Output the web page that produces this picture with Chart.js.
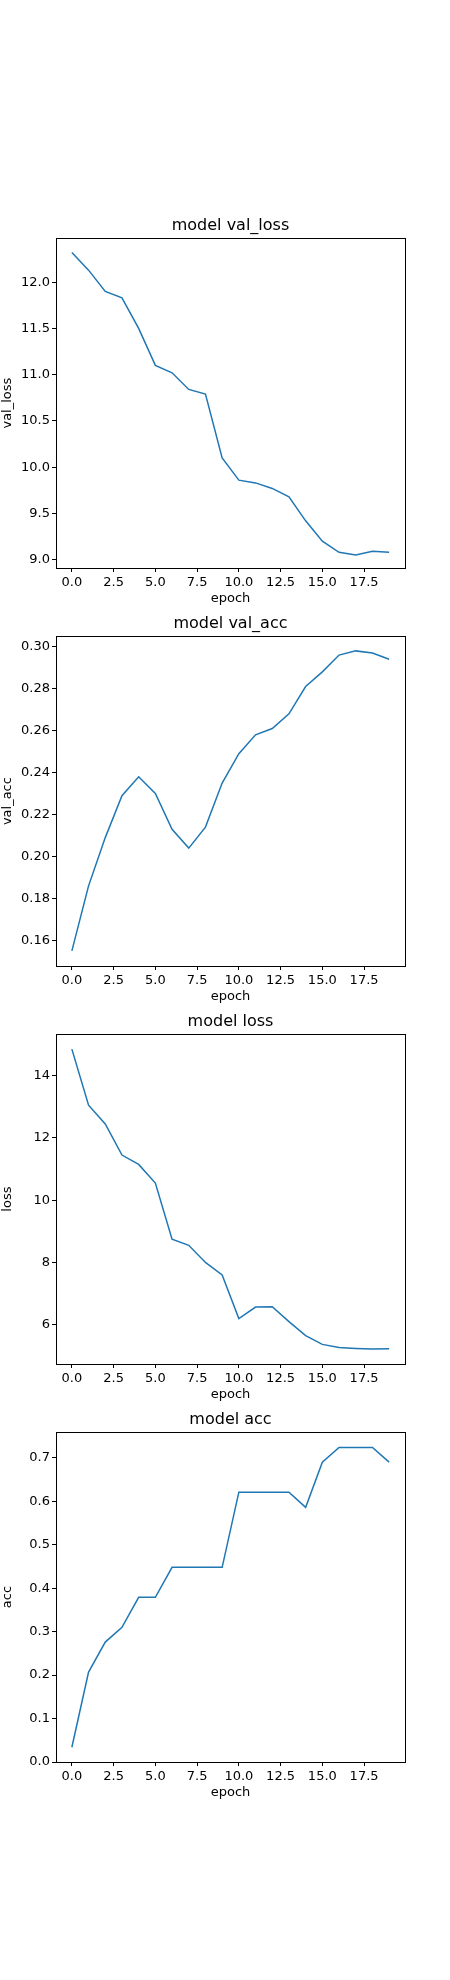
<!DOCTYPE html>
<html>
<head>
<meta charset="utf-8">
<script src="https://cdn.jsdelivr.net/npm/chart.js@4"></script>
<style>
body { margin: 0; background: #fff; width: 450px; height: 1980px; position: relative; }
.box { position: absolute; left: 0; width: 450px; height: 395px; }
</style>
</head>
<body>
<div class="box" style="top:211px"><canvas id="c0"></canvas></div>
<div class="box" style="top:609px"><canvas id="c1"></canvas></div>
<div class="box" style="top:1007px"><canvas id="c2"></canvas></div>
<div class="box" style="top:1405px"><canvas id="c3"></canvas></div>
<script>
// dados
const epochs = [0,1,2,3,4,5,6,7,8,9,10,11,12,13,14,15,16,17,18,19];
const xTicks = [0, 2.5, 5, 7.5, 10, 12.5, 15, 17.5];

const valLoss = [12.32,12.13,11.90,11.83,11.50,11.10,11.02,10.84,10.79,10.10,9.86,9.83,9.77,9.68,9.42,9.20,9.08,9.05,9.09,9.08];
const valAcc = [0.155,0.186,0.209,0.229,0.238,0.230,0.213,0.204,0.214,0.235,0.249,0.258,0.261,0.268,0.281,0.288,0.296,0.298,0.297,0.294];
const loss = [14.85,13.05,12.45,11.45,11.15,10.55,8.75,8.55,8.00,7.60,6.20,6.57,6.58,6.10,5.65,5.37,5.27,5.24,5.22,5.23];
const acc = [0.034,0.207,0.276,0.310,0.379,0.379,0.448,0.448,0.448,0.448,0.621,0.621,0.621,0.621,0.586,0.690,0.724,0.724,0.724,0.690];

const valLossTicks = [9.0,9.5,10.0,10.5,11.0,11.5,12.0];
const valAccTicks = [0.16,0.18,0.20,0.22,0.24,0.26,0.28,0.30];
const lossTicks = [6,8,10,12,14];
const accTicks = [0.0,0.1,0.2,0.3,0.4,0.5,0.6,0.7];

const fonte = 'DejaVu Sans';

// moldura + titulo centrado no eixo
const moldura = {
    id: 'moldura',
    afterDraw(chart) {
        const a = chart.chartArea;
        const ctx = chart.ctx;
        ctx.save();
        ctx.strokeStyle = '#000';
        ctx.lineWidth = 1;
        ctx.strokeRect(Math.round(a.left) + 0.5, Math.round(a.top) + 0.5, Math.round(a.right - a.left), Math.round(a.bottom - a.top));
        ctx.fillStyle = '#000';
        ctx.font = '16px "' + fonte + '"';
        ctx.textAlign = 'center';
        ctx.textBaseline = 'alphabetic';
        ctx.fillText(chart.options.plugins.title.text, (a.left + a.right) / 2, a.top - 8);
        ctx.restore();
    }
};

function montaGrafico(id, titulo, nome, dados, ticks, min, max, casas) {
    new Chart(document.getElementById(id), {
        type: 'line',
        data: {
            labels: epochs,
            datasets: [{
                data: epochs.map((e, i) => ({ x: e, y: dados[i] })),
                borderColor: '#1f77b4',
                borderWidth: 1.5,
                pointRadius: 0,
                tension: 0,
                fill: false
            }]
        },
        options: {
            responsive: true,
            maintainAspectRatio: false,
            animation: false,
            devicePixelRatio: 1,
            layout: { padding: { right: 45, left: 0, top: 0, bottom: 0 } },
            plugins: {
                legend: { display: false },
                tooltip: { enabled: false },
                title: {
                    display: true,
                    text: titulo,
                    color: 'rgba(0,0,0,0)',
                    font: { family: fonte, size: 16, weight: 'normal' },
                    padding: { top: 0, bottom: 8 }
                }
            },
            scales: {
                x: {
                    type: 'linear',
                    min: -0.95,
                    max: 19.95,
                    afterBuildTicks: (s) => { s.ticks = xTicks.map(v => ({ value: v })); },
                    afterFit: (s) => { s.height = 38; },
                    ticks: {
                        color: '#000',
                        font: { family: fonte, size: 13 },
                        maxRotation: 0,
                        autoSkip: false,
                        padding: 3,
                        callback: (v) => v.toFixed(1)
                    },
                    grid: { drawOnChartArea: false, drawTicks: true, tickLength: 4, color: '#000' },
                    border: { color: '#000' },
                    title: { display: true, text: 'epoch', color: '#000', font: { family: fonte, size: 13 }, padding: 0 }
                },
                y: {
                    min: min,
                    max: max,
                    afterBuildTicks: (s) => { s.ticks = ticks.map(v => ({ value: v })); },
                    afterFit: (s) => { s.width = 56; },
                    ticks: {
                        color: '#000',
                        font: { family: fonte, size: 13 },
                        autoSkip: false,
                        padding: 2,
                        callback: (v) => v.toFixed(casas)
                    },
                    grid: { drawOnChartArea: false, drawTicks: true, tickLength: 4, color: '#000' },
                    border: { color: '#000' },
                    title: { display: true, text: nome, color: '#000', font: { family: fonte, size: 13 }, padding: 0 }
                }
            }
        },
        plugins: [moldura]
    });
}

montaGrafico('c0', 'model val_loss', 'val_loss', valLoss, valLossTicks, 8.91, 12.475, 1);
montaGrafico('c1', 'model val_acc', 'val_acc', valAcc, valAccTicks, 0.1478, 0.305, 2);
montaGrafico('c2', 'model loss', 'loss', loss, lossTicks, 4.74, 15.33, 0);
montaGrafico('c3', 'model acc', 'acc', acc, accTicks, 0.0, 0.759, 1);
</script>
</body>
</html>
